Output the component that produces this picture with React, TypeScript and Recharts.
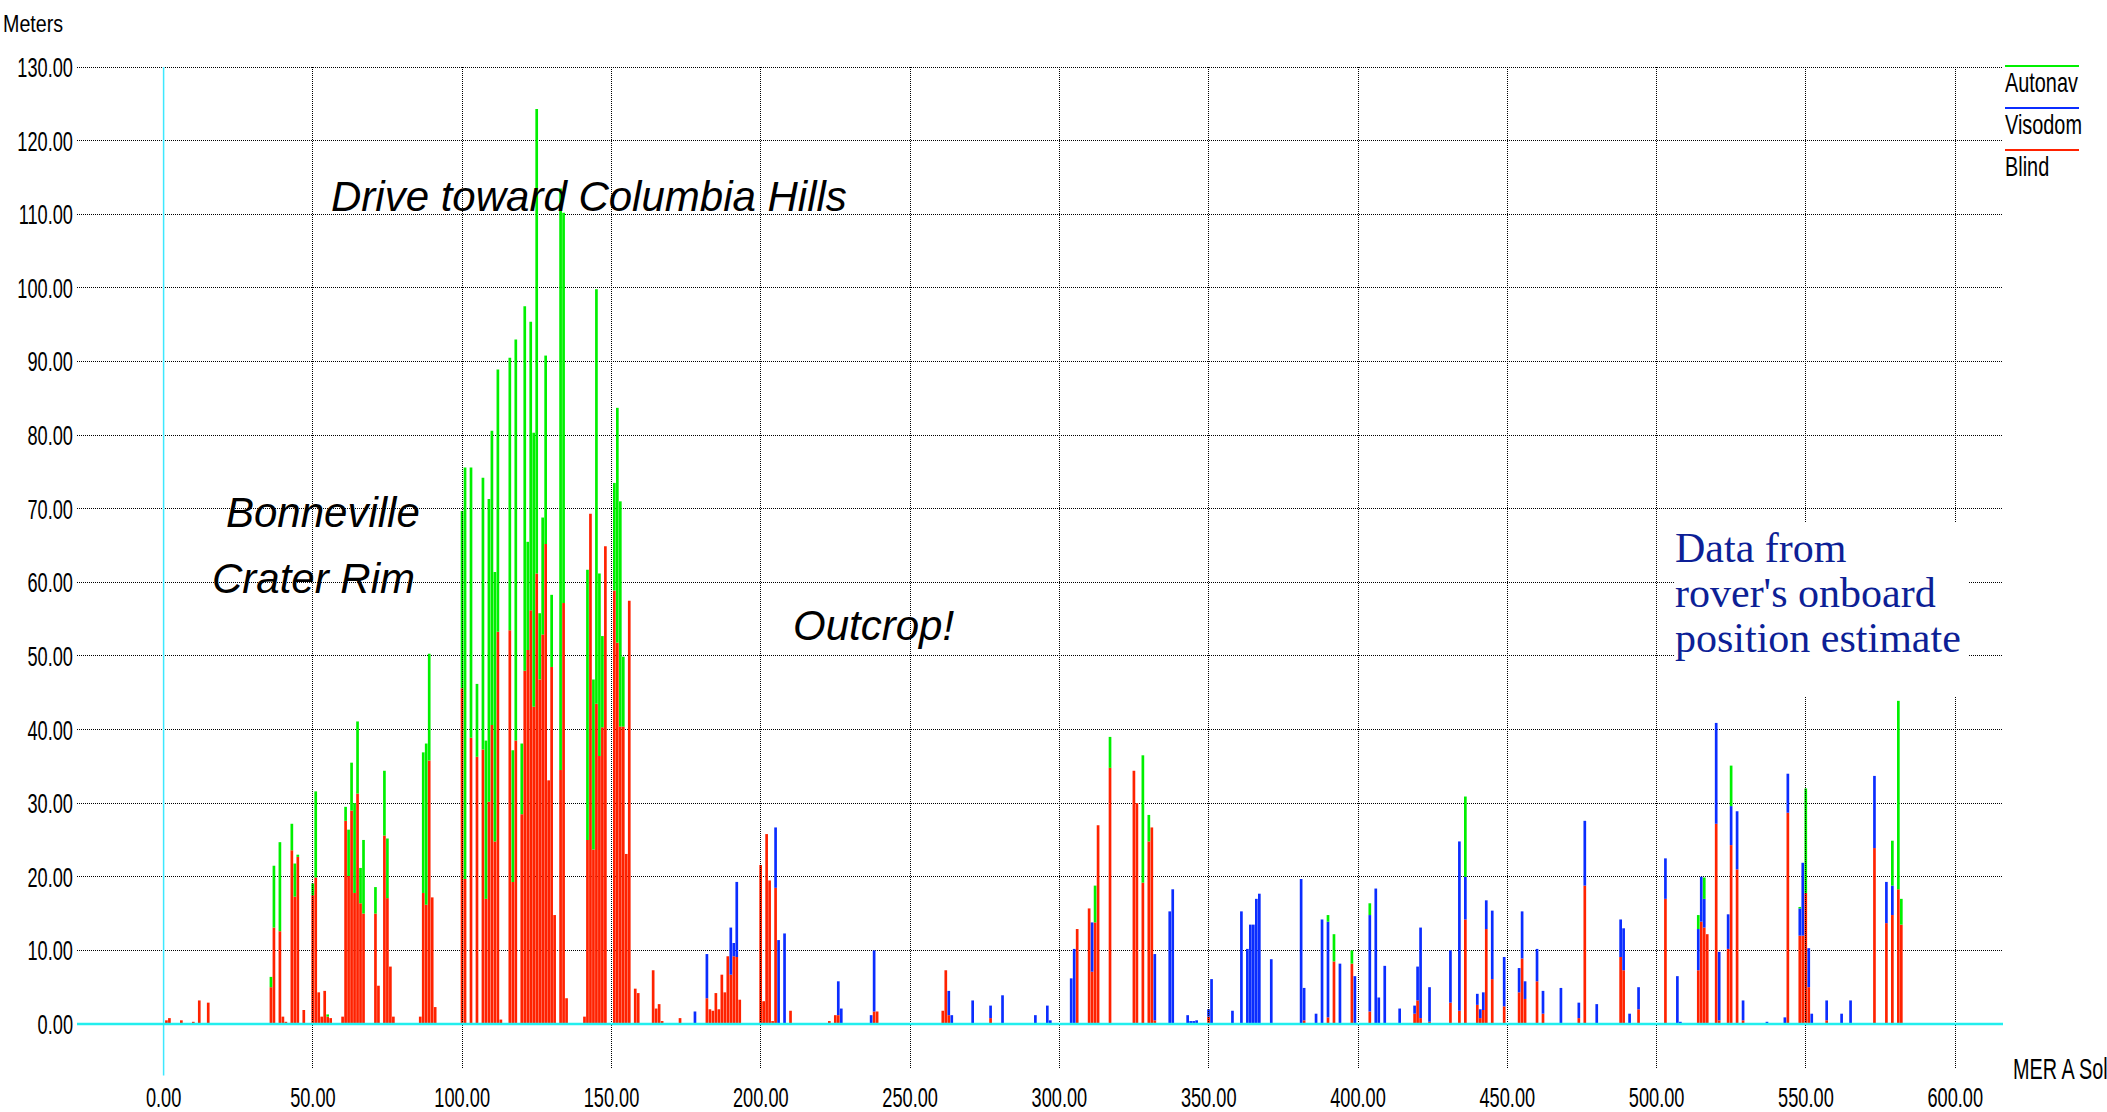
import { BarChart, Bar, XAxis, YAxis, CartesianGrid, ReferenceLine } from 'recharts'

// MER A (Spirit) drive distance per sol, metres, split by drive mode
const sols = [
  1, 2, 6, 10, 12, 15, 36, 37, 39, 40,
  41, 43, 44, 45, 47, 50, 51, 52, 53, 54,
  55, 56, 60, 61, 62, 63, 64, 65, 66, 67,
  71, 72, 74, 75, 76, 77, 86, 87, 88, 89,
  90, 91, 100, 101, 103, 105, 107, 108, 109, 110,
  111, 112, 113, 116, 117, 118, 120, 121, 122, 123,
  124, 125, 126, 127, 128, 129, 130, 131, 133, 134,
  135, 141, 142, 143, 144, 145, 146, 147, 148, 151,
  152, 153, 154, 155, 156, 158, 159, 164, 165, 166,
  167, 173, 178, 182, 183, 184, 185, 186, 187, 188,
  189, 190, 191, 192, 193, 200, 201, 202, 203, 204,
  205, 206, 208, 210, 223, 225, 226, 227, 237, 238,
  239, 261, 262, 263, 264, 271, 277, 281, 292, 296,
  297, 304, 305, 306, 310, 311, 312, 313, 317, 325,
  326, 328, 330, 331, 332, 337, 338, 343, 344, 345,
  346, 350, 351, 358, 361, 363, 364, 365, 366, 367,
  371, 381, 382, 386, 388, 390, 392, 394, 398, 399,
  404, 406, 407, 409, 414, 419, 420, 421, 424, 431,
  434, 436, 440, 441, 442, 443, 445, 449, 454, 455,
  456, 460, 462, 468, 474, 476, 480, 488, 489, 491,
  494, 503, 507, 508, 514, 515, 516, 517, 520, 521,
  524, 525, 527, 529, 537, 543, 544, 548, 549, 550,
  551, 552, 557, 562, 565, 573, 577, 579, 581, 582,
]

const blind = [
  0.5, 0.8, 0.5, 0.3, 3.2, 2.9, 5.0, 13.1, 12.6, 1.0,
  0.3, 23.6, 17.3, 22.7, 1.9, 17.5, 19.9, 4.3, 1.0, 4.5,
  1.0, 0.8, 1.0, 27.6, 20.1, 29.0, 17.8, 31.3, 16.4, 15.0,
  15.0, 5.2, 25.6, 17.1, 7.8, 1.0, 1.0, 17.8, 16.2, 35.8,
  17.2, 2.3, 45.6, 19.7, 38.9, 36.3, 37.3, 17.0, 30.2, 40.6,
  24.8, 53.3, 0.6, 53.5, 19.3, 38.5, 28.5, 48.0, 50.8, 56.2,
  43.1, 61.2, 46.8, 52.9, 65.2, 33.1, 48.5, 14.8, 34.5, 57.2,
  3.5, 1.0, 25.0, 69.3, 23.7, 43.5, 36.4, 40.3, 64.9, 58.9,
  51.8, 40.4, 40.4, 23.1, 57.5, 4.8, 4.2, 7.3, 2.1, 2.7,
  0.4, 0.8, 0, 3.5, 2.0, 1.8, 4.2, 2.0, 6.7, 4.3,
  9.2, 6.7, 9.2, 9.1, 3.3, 21.6, 3.1, 25.8, 19.5, 0.4,
  18.5, 0, 0, 1.8, 0.4, 1.2, 1.2, 0, 0, 1.7,
  1.7, 1.8, 7.3, 1.2, 0, 0, 0.8, 0, 0, 0,
  0, 0, 0, 12.9, 15.7, 7.1, 13.8, 27.0, 34.8, 34.4,
  30.0, 19.2, 24.8, 26.7, 0.5, 0, 0, 0, 0, 0,
  0, 1.0, 0, 0, 0, 0, 0, 0, 0, 0,
  0, 0, 0.5, 0, 0, 0.9, 8.5, 0, 8.2, 0,
  1.7, 0, 0, 0, 0, 1.4, 3.2, 0.8, 0.3, 2.9,
  1.8, 14.2, 2.6, 0.8, 1.9, 12.9, 6.1, 2.4, 4.3, 8.9,
  3.4, 5.8, 1.4, 0, 0.8, 18.8, 0, 9.1, 7.3, 0,
  2.0, 17.0, 0, 0, 7.3, 13.9, 13.1, 12.2, 27.2, 0.5,
  10.2, 24.3, 21.0, 0.5, 0, 0, 28.7, 12.0, 12.0, 17.8,
  5.0, 0, 0.5, 0, 0, 23.9, 13.7, 14.8, 18.3, 13.5,
]

const visodom = [
  0, 0, 0, 0, 0, 0, 0, 0, 0, 0,
  0, 0, 0, 0, 0, 0, 0, 0, 0, 0,
  0, 0, 0, 0, 0, 0, 0, 0, 0, 0,
  0, 0, 0, 0, 0, 0, 0, 0, 0, 0,
  0, 0, 0, 0, 0, 0, 0, 0, 0, 0,
  0, 0, 0, 0, 0, 0, 0, 0, 0, 0,
  0, 0, 0, 0, 0, 0, 0, 0, 0, 0,
  0, 0, 0, 0, 0, 0, 0, 0, 0, 0,
  0, 0, 0, 0, 0, 0, 0, 0, 0, 0,
  0, 0, 1.7, 6.0, 0, 0, 0, 0, 0, 0,
  0, 6.4, 1.8, 10.2, 0, 0, 0, 0, 0, 0,
  8.2, 11.4, 12.3, 0, 0, 0, 4.6, 2.1, 1.2, 8.3,
  0, 0, 0, 3.3, 1.2, 3.2, 1.7, 3.9, 1.2, 2.5,
  0.5, 6.2, 10.2, 0, 0, 6.7, 0, 0, 0, 0,
  0, 0, 0, 0, 9.0, 15.3, 18.3, 1.2, 0.4, 0.4,
  0.5, 1.0, 6.1, 1.8, 15.3, 10.2, 13.5, 13.5, 17.0, 17.7,
  8.8, 19.7, 4.4, 1.4, 14.2, 13.0, 0, 8.2, 0, 6.5,
  13.1, 18.4, 3.6, 7.9, 2.1, 1.1, 4.6, 12.3, 4.7, 7.1,
  23.0, 5.8, 1.5, 1.2, 2.4, 3.9, 9.3, 6.7, 3.3, 6.4,
  2.4, 4.4, 3.1, 4.9, 2.1, 8.8, 2.7, 5.1, 5.7, 1.4,
  3.0, 5.5, 6.5, 0.3, 5.6, 6.1, 3.9, 0, 13.7, 9.3,
  4.7, 5.3, 7.9, 2.7, 0.3, 0.9, 5.3, 3.7, 9.9, 0,
  5.3, 1.4, 2.7, 1.4, 3.2, 9.8, 5.6, 4.0, 0, 0,
]

const autonav = [
  0, 0, 0, 0, 0, 0, 1.4, 8.4, 12.1, 0,
  0, 3.6, 4.5, 0.3, 0, 1.6, 11.7, 0, 0, 0,
  0.3, 0, 0, 1.9, 6.3, 6.5, 12.2, 9.8, 4.8, 10.0,
  3.6, 0, 8.8, 8.1, 0, 0, 0, 19.1, 21.9, 14.5,
  0, 0, 24.1, 55.9, 36.7, 9.9, 36.9, 21.5, 41.1, 40.0,
  36.6, 35.6, 0, 37.0, 17.9, 54.5, 9.6, 49.5, 14.7, 39.2,
  37.2, 63.1, 9.0, 15.9, 25.6, 0, 9.8, 0, 79.0, 53.0,
  0, 0, 36.7, 0, 23.1, 56.3, 24.8, 12.4, 0, 14.6,
  31.9, 30.6, 9.5, 0, 0, 0, 0, 0, 0, 0,
  0, 0, 0, 0, 0, 0, 0, 0, 0, 0,
  0, 0, 0, 0, 0, 0, 0, 0, 0, 0,
  0, 0, 0, 0, 0, 0, 0, 0, 0, 0,
  0, 0, 0, 0, 0, 0, 0, 0, 0, 0,
  0, 0, 0, 0, 0, 0, 5.0, 0, 4.2, 0,
  0, 17.3, 3.6, 0, 0, 0, 0, 0, 0, 0,
  0, 0, 0, 0, 0, 0, 0, 0, 0, 0,
  0, 0, 0, 0, 0, 0.9, 3.7, 0, 1.8, 0,
  1.6, 0, 0, 0, 0, 0, 0, 0, 0, 0,
  0, 10.9, 0, 0, 0, 0, 0, 0, 0, 0,
  0, 0, 0, 0, 0, 0, 0, 0, 0, 0,
  0, 0, 0, 0, 1.9, 0, 2.9, 0, 0, 0,
  0, 5.5, 0, 0, 0, 0, 0, 0.2, 0, 14.2,
  0, 0, 0, 0, 0, 0, 0, 6.1, 25.6, 3.5,
]

const xTicks = [0, 50, 100, 150, 200, 250, 300, 350, 400, 450, 500, 550, 600]
const yTicks = [0, 10, 20, 30, 40, 50, 60, 70, 80, 90, 100, 110, 120, 130]
const legendItems = [
  { label: 'Autonav', color: '#00f000' },
  { label: 'Visodom', color: '#0b2dff' },
  { label: 'Blind', color: '#ff2200' },
]

const data = sols.map((sol, i) => ({
  sol,
  blind: blind[i],
  visodom: visodom[i],
  autonav: autonav[i],
}))

const labelFont = "'Liberation Sans', Arial, sans-serif"

// condensed look of the original tick font
const YTick = ({ y, payload }: any) => (
  <text transform={`translate(73 ${y + 10}) scale(0.65 1)`} textAnchor="end"
        fontSize={28} fontFamily={labelFont} fill="#000">
    {payload.value.toFixed(2)}
  </text>
)

const XTick = ({ x, payload }: any) => (
  <text transform={`translate(${x} 1107) scale(0.65 1)`} textAnchor="middle"
        fontSize={28} fontFamily={labelFont} fill="#000">
    {payload.value.toFixed(2)}
  </text>
)

export default function App() {
  const italic = { fontFamily: labelFont, fontStyle: 'italic', fontSize: 42, fill: '#000' } as const

  return (
    <div style={{ position: 'absolute', left: 0, top: 0, width: 2107, height: 1112, background: '#fff' }}>
      <BarChart width={2107} height={1112} data={data} barSize={3} barGap={0}
                margin={{ top: 67, right: 104, bottom: 0, left: 0 }}>
        <CartesianGrid vertical={false} stroke="#000" strokeDasharray="1 1" shapeRendering="crispEdges" />
        <XAxis type="number" dataKey="sol" domain={[-29, 616]} ticks={xTicks}
               allowDataOverflow height={88} axisLine={false} tickLine={false} tick={<XTick />} />
        <YAxis type="number" domain={[0, 130]} ticks={yTicks} width={77}
               axisLine={false} tickLine={false} tick={<YTick />} />

        {/* vertical dotted grid, runs a little below the baseline */}
        {xTicks.filter(t => t > 0).map(t => (
          <ReferenceLine key={t} segment={[{ x: t, y: -6 }, { x: t, y: 130 }]} ifOverflow="visible"
                         stroke="#000" strokeDasharray="1 1" shapeRendering="crispEdges" />
        ))}
        <ReferenceLine segment={[{ x: 0, y: -7 }, { x: 0, y: 130 }]} ifOverflow="visible"
                       stroke="#3de8ff" strokeWidth={1.5} />

        <Bar dataKey="blind" stackId="a" fill="#ff2200" isAnimationActive={false} />
        <Bar dataKey="visodom" stackId="a" fill="#0b2dff" isAnimationActive={false} />
        <Bar dataKey="autonav" stackId="a" fill="#00f000" isAnimationActive={false} />

        <ReferenceLine y={0} stroke="#22eeee" strokeWidth={2.5} />
      </BarChart>

      <svg width={2107} height={1112} style={{ position: 'absolute', left: 0, top: 0, pointerEvents: 'none' }}>
        <text transform="translate(3 32) scale(0.82 1)" fontSize={24} fontFamily={labelFont}>Meters</text>
        <text transform="translate(2013 1079) scale(0.66 1)" fontSize={30} fontFamily={labelFont}>MER A Sol</text>

        {legendItems.map((l, i) => (
          <g key={l.label}>
            <line x1={2005} x2={2079} y1={66 + i * 42} y2={66 + i * 42} stroke={l.color} strokeWidth={2} />
            <text transform={`translate(2005 ${92 + i * 42}) scale(0.71 1)`} fontSize={28} fontFamily={labelFont}>
              {l.label}
            </text>
          </g>
        ))}

        <text x={331} y={211} {...italic}>Drive toward Columbia Hills</text>
        <text x={226} y={527} {...italic}>Bonneville</text>
        <text x={212} y={593} {...italic}>Crater Rim</text>
        <text x={793} y={640} {...italic}>Outcrop!</text>

        <rect x={1675} y={523} width={293} height={174} fill="#fff" />
        <g fontFamily="'Liberation Serif', 'Times New Roman', serif" fontSize={42} fill="#0d1f96">
          <text x={1675} y={562}>Data from</text>
          <text x={1675} y={607}>rover's onboard</text>
          <text x={1675} y={652}>position estimate</text>
        </g>
      </svg>
    </div>
  )
}
